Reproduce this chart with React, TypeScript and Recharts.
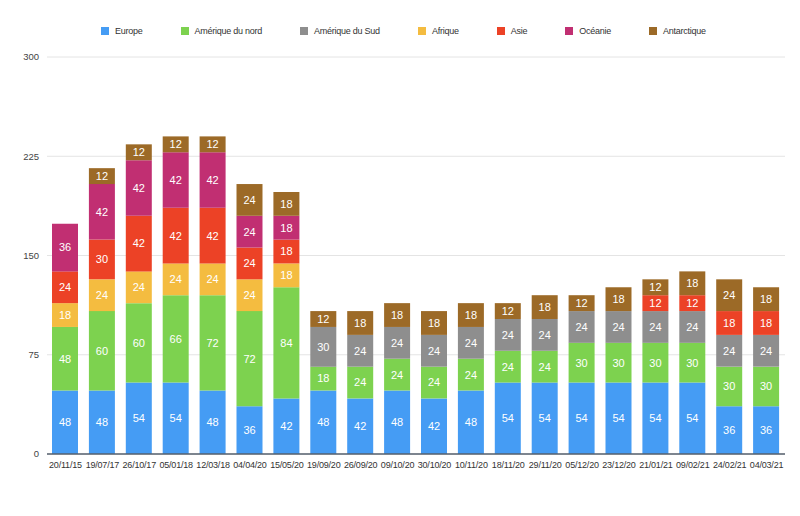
import React from 'react'
import {
  BarChart,
  Bar,
  XAxis,
  YAxis,
  CartesianGrid,
  Legend,
  LabelList
} from 'recharts'

const dates = [
  '20/11/15', '19/07/17', '26/10/17', '05/01/18', '12/03/18', '04/04/20', '15/05/20',
  '19/09/20', '26/09/20', '09/10/20', '30/10/20', '10/11/20', '18/11/20', '29/11/20',
  '05/12/20', '23/12/20', '21/01/21', '09/02/21', '24/02/21', '04/03/21'
]

const europe = [48, 48, 54, 54, 48, 36, 42, 48, 42, 48, 42, 48, 54, 54, 54, 54, 54, 54, 36, 36]
const ameriqueNord = [48, 60, 60, 66, 72, 72, 84, 18, 24, 24, 24, 24, 24, 24, 30, 30, 30, 30, 30, 30]
const ameriqueSud = [0, 0, 0, 0, 0, 0, 0, 30, 24, 24, 24, 24, 24, 24, 24, 24, 24, 24, 24, 24]
const afrique = [18, 24, 24, 24, 24, 24, 18, 0, 0, 0, 0, 0, 0, 0, 0, 0, 0, 0, 0, 0]
const asie = [24, 30, 42, 42, 42, 24, 18, 0, 0, 0, 0, 0, 0, 0, 0, 0, 12, 12, 18, 18]
const oceanie = [36, 42, 42, 42, 42, 24, 18, 0, 0, 0, 0, 0, 0, 0, 0, 0, 0, 0, 0, 0]
const antarctique = [0, 12, 12, 12, 12, 24, 18, 12, 18, 18, 18, 18, 12, 18, 12, 18, 12, 18, 24, 18]

const yTicks = [0, 75, 150, 225, 300]

const series = [
  { key: 'Europe', values: europe, color: '#459cf4' },
  { key: 'Amérique du nord', values: ameriqueNord, color: '#7dd24f' },
  { key: 'Amérique du Sud', values: ameriqueSud, color: '#8e8e8e' },
  { key: 'Afrique', values: afrique, color: '#f4bc40' },
  { key: 'Asie', values: asie, color: '#ec4226' },
  { key: 'Océanie', values: oceanie, color: '#c12f72' },
  { key: 'Antarctique', values: antarctique, color: '#9c6a27' }
]

const data = dates.map((d, i) => {
  const row: any = { name: d }
  series.forEach((s) => { row[s.key] = s.values[i] })
  return row
})

const font = '"Liberation Sans", Arial, sans-serif'

function LegendBox() {
  return (
    <div style={{ display: 'flex', gap: 38, fontFamily: font, fontSize: 9, letterSpacing: -0.25, color: '#333' }}>
      {series.map((s) => (
        <div key={s.key} style={{ display: 'flex', alignItems: 'center', gap: 6 }}>
          <span style={{ width: 8, height: 8, background: s.color, display: 'inline-block' }} />
          <span>{s.key}</span>
        </div>
      ))}
    </div>
  )
}

export default function App() {
  return (
    <div style={{ position: 'absolute', left: 0, top: 0, width: 800, height: 516, background: '#fff' }}>
      <BarChart
        width={800}
        height={516}
        data={data}
        margin={{ top: 45, right: 15, left: 0, bottom: 32 }}
        barSize={26}
      >
        <CartesianGrid vertical={false} stroke="#e4e4e4" />
        <Legend
          verticalAlign="top"
          content={() => <LegendBox />}
          wrapperStyle={{ top: 26, left: 101, width: 'auto', height: 12 }}
        />
        <XAxis
          dataKey="name"
          tickLine={false}
          stroke="#56606e"
          strokeWidth={1.5}
          interval={0}
          tick={{ fontSize: 9, fill: '#333', fontFamily: font, letterSpacing: -0.2 }}
          height={30}
        />
        <YAxis
          width={47}
          domain={[0, 300]}
          ticks={yTicks}
          tickLine={false}
          axisLine={false}
          tick={{ fontSize: 9.5, fill: '#444', fontFamily: font }}
        />
        {series.map((s) => (
          <Bar key={s.key} dataKey={s.key} stackId="a" fill={s.color} isAnimationActive={false}>
            <LabelList
              dataKey={s.key}
              position="center"
              formatter={(v: any) => (v ? v : '')}
              style={{ fill: '#fff', fontSize: 11, fontFamily: font }}
            />
          </Bar>
        ))}
      </BarChart>
    </div>
  )
}
